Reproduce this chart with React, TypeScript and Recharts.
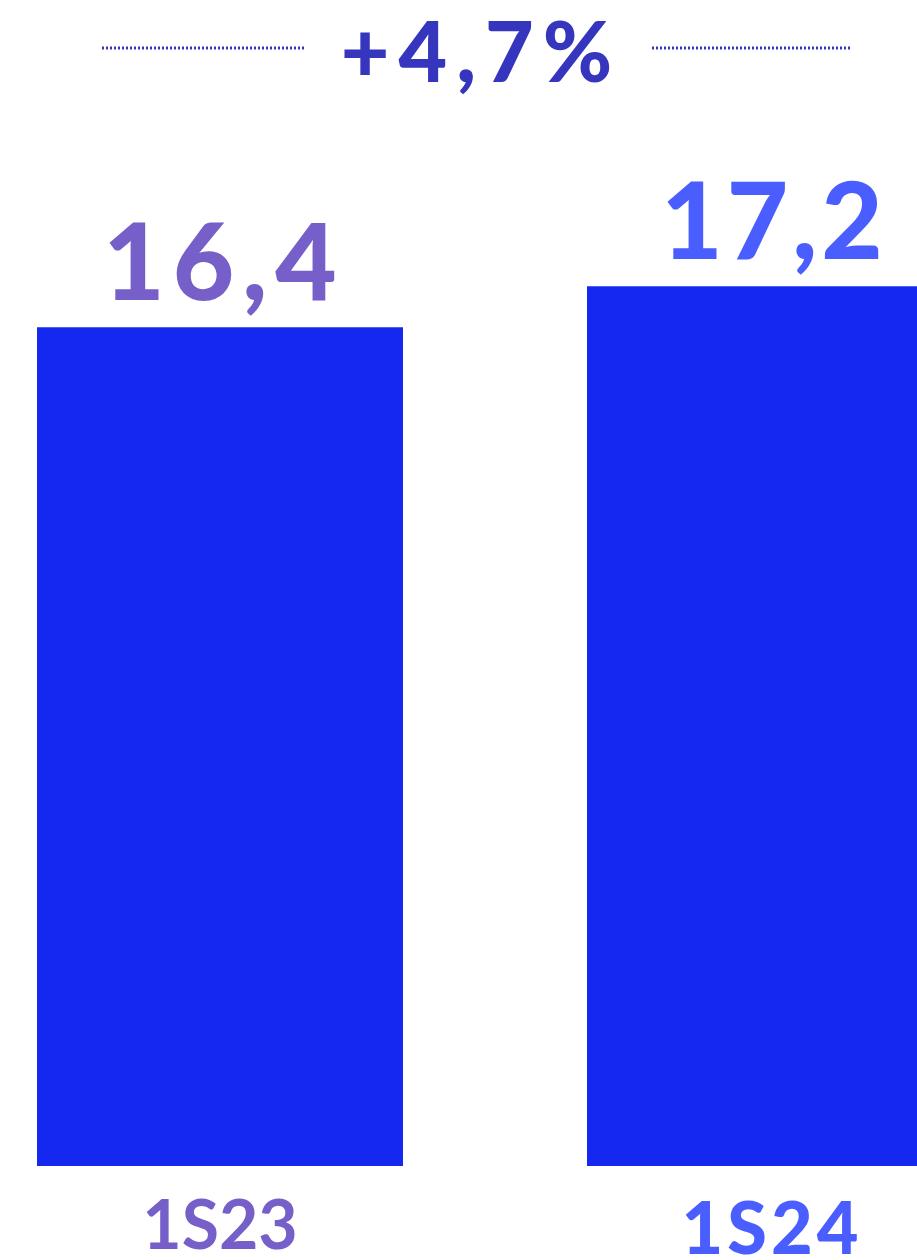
import { Bar, BarChart, LabelList, XAxis, YAxis } from "recharts"

const periods = ["1S23", "1S24"]
const values = [16.4, 17.2]
const growthLabel = "+4,7%"

const labelColors = ["#765fc8", "#4a5eff"]
const BAR_COLOR = "#1428f0"
const TITLE_COLOR = "#3535be"
const FONT = "Lato, 'Open Sans', sans-serif"

// chart is shifted left so the two bands line up with the picture
const SHIFT = 55

const data = periods.map((p, i) => ({ period: p, value: values[i] }))

const fmt = (v: number) => v.toFixed(1).replace(".", ",")

function ValueLabel(props: any) {
  const { x, y, width, value, index } = props
  return (
    <text
      x={x + width / 2 + 4}
      y={y - 27}
      textAnchor="middle"
      fill={labelColors[index]}
      fontFamily={FONT}
      fontWeight={900}
      fontSize={106}
      letterSpacing={index === 0 ? 8 : 4}
    >
      {fmt(value)}
    </text>
  )
}

function PeriodTick(props: any) {
  const { x, y, payload, index } = props
  const last = index === 1
  return (
    <text
      x={x + (last ? 2 : 0)}
      y={y + (last ? 80 : 75)}
      textAnchor="middle"
      fill={labelColors[index]}
      fontFamily={FONT}
      fontWeight={last ? 900 : 700}
      fontSize={last ? 72 : 68}
      letterSpacing={last ? 4 : 0}
    >
      {payload.value}
    </text>
  )
}

export default function App() {
  return (
    <div
      style={{
        position: "absolute",
        top: 0,
        left: 0,
        width: 917,
        height: 1260,
        overflow: "hidden",
        background: "#fff",
      }}
    >
      <div style={{ position: "absolute", top: 0, left: -SHIFT }}>
        <BarChart
          width={1100}
          height={1260}
          data={data}
          margin={{ top: 143, right: 0, bottom: 0, left: 0 }}
        >
          <XAxis
            dataKey="period"
            axisLine={false}
            tickLine={false}
            height={94}
            interval={0}
            tick={<PeriodTick />}
          />
          <YAxis hide domain={[0, 20]} />
          <Bar dataKey="value" fill={BAR_COLOR} barSize={366} isAnimationActive={false}>
            <LabelList dataKey="value" content={<ValueLabel />} />
          </Bar>
          <line
            x1={102 + SHIFT}
            x2={305 + SHIFT}
            y1={48}
            y2={48}
            stroke={TITLE_COLOR}
            strokeWidth={3}
            strokeDasharray="2 2"
          />
          <line
            x1={652 + SHIFT}
            x2={852 + SHIFT}
            y1={48}
            y2={48}
            stroke={TITLE_COLOR}
            strokeWidth={3}
            strokeDasharray="2 2"
          />
          <text
            x={481 + SHIFT}
            y={82}
            textAnchor="middle"
            fill={TITLE_COLOR}
            fontFamily={FONT}
            fontWeight={900}
            fontSize={84}
            letterSpacing={9}
          >
            {growthLabel}
          </text>
        </BarChart>
      </div>
    </div>
  )
}
